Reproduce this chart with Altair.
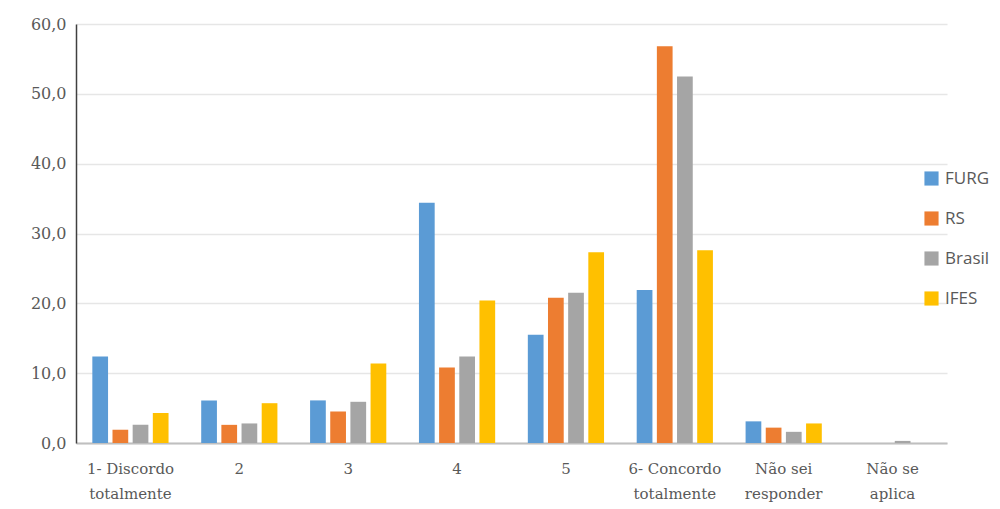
import altair as alt
import pandas as pd

categories = ["1- Discordo|totalmente", "2", "3", "4", "5", "6- Concordo|totalmente", "Não sei|responder", "Não se|aplica"]
series = ["FURG", "RS", "Brasil", "IFES"]
furg = [12.4, 6.1, 6.1, 34.4, 15.5, 21.9, 3.1, 0.0]
rs = [1.9, 2.6, 4.5, 10.8, 20.8, 56.8, 2.2, 0.0]
brasil = [2.6, 2.8, 5.9, 12.4, 21.5, 52.5, 1.6, 0.3]
ifes = [4.3, 5.7, 11.4, 20.4, 27.3, 27.6, 2.8, 0.0]
colors = ["#5B9BD5", "#ED7D31", "#A5A5A5", "#FFC000"]

rows = []
for name, vals in zip(series, [furg, rs, brasil, ifes]):
    for c, v in zip(categories, vals):
        rows.append({"cat": c, "serie": name, "valor": v})
df = pd.DataFrame(rows)

chart = alt.Chart(df).mark_bar().encode(
    x=alt.X("cat:N", sort=categories, title=None,
            scale=alt.Scale(paddingInner=0.3, paddingOuter=0.15),
            axis=alt.Axis(labelExpr="split(datum.label, '|')", labelAngle=0,
                          labelFont="DejaVu Serif", labelFontSize=15, labelColor="#595959",
                          labelPadding=18, ticks=False, domainColor="#BFBFBF", domainWidth=2,
                          labelLineHeight=25, grid=False)),
    xOffset=alt.XOffset("serie:N", sort=series, scale=alt.Scale(paddingInner=0.22)),
    y=alt.Y("valor:Q", title=None,
            scale=alt.Scale(domain=[0, 60], nice=False),
            axis=alt.Axis(values=[0, 10, 20, 30, 40, 50, 60],
                          labelExpr="replace(format(datum.value, '.1f'), '.', ',')",
                          labelFont="DejaVu Serif", labelFontSize=16, labelColor="#595959",
                          labelPadding=10, ticks=False, domainColor="#404040", domainWidth=1.5,
                          gridColor="#E6E6E6", gridWidth=1.5)),
    color=alt.Color("serie:N", sort=series, title=None,
                    scale=alt.Scale(domain=series, range=colors),
                    legend=alt.Legend(orient="none", legendX=847, legendY=146,
                                      symbolType="square", symbolSize=200,
                                      symbolStrokeWidth=0,
                                      labelFont="Open Sans", labelFontSize=17,
                                      labelColor="#595959", rowPadding=22, labelOffset=5)),
).properties(
    width=871, height=419,
    autosize=alt.AutoSizeParams(type="none"),
    padding={"left": 68, "top": 16, "right": 45, "bottom": 60},
).configure(background="white").configure_view(stroke="transparent", strokeWidth=0)

chart.save("out.html", embed_options={"renderer": "svg", "actions": False})
